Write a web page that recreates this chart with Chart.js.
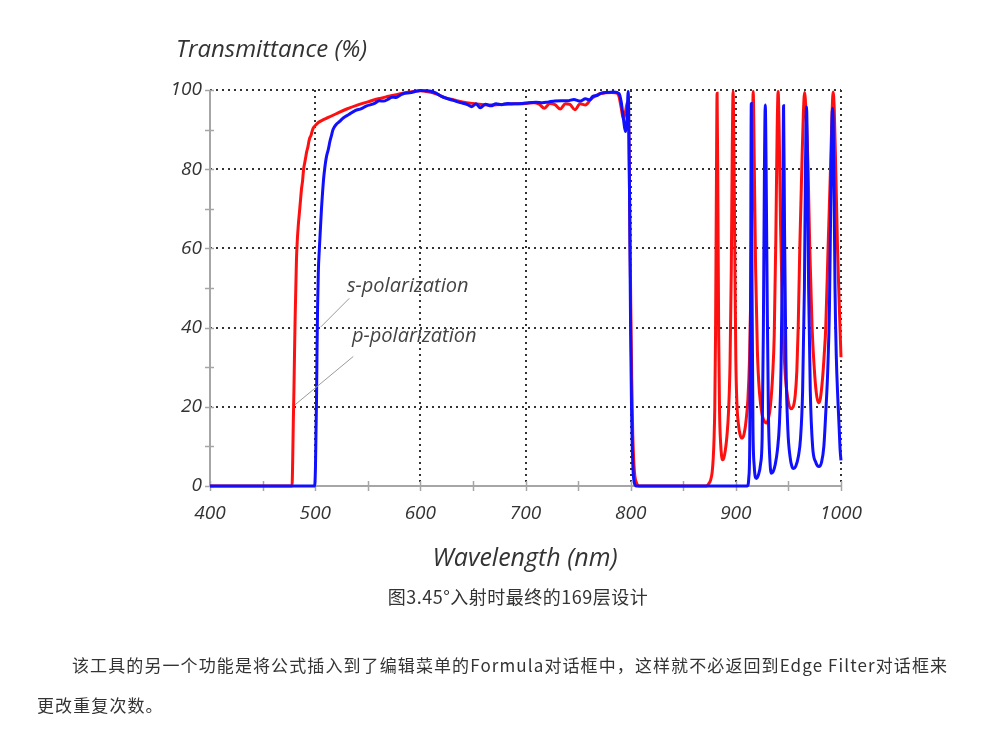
<!DOCTYPE html>
<html>
<head>
<meta charset="utf-8">
<script src="https://cdn.jsdelivr.net/npm/chart.js@4/dist/chart.umd.min.js"></script>
<style>
  html, body { margin: 0; padding: 0; background: #fff; }
  #page { position: relative; width: 1000px; height: 729px; overflow: hidden; }
  #chart { position: absolute; left: 0; top: 0; }
  .lbl { position: absolute; color: #333; font-family: "Open Sans", sans-serif; font-style: italic; white-space: nowrap; }
  .cn { position: absolute; color: #333; font-family: "Noto Sans CJK SC", sans-serif; white-space: nowrap; }
</style>
</head>
<body>
<div id="page">
  <canvas id="chart" width="1000" height="729"></canvas>
  <div class="lbl" style="left:176px; top:32px; font-size:24px; line-height:32px;">Transmittance (%)</div>
  <div class="lbl" style="left:325px; width:400px; text-align:center; top:539px; font-size:25px; line-height:34px;">Wavelength (nm)</div>
  <div class="cn" style="left:318px; width:400px; text-align:center; top:583px; font-size:18px; line-height:26px; letter-spacing:0.5px;">图3.45°入射时最终的169层设计</div>
  <div class="cn" style="left:72px; top:653px; font-size:17px; line-height:24px; letter-spacing:1.1px;">该工具的另一个功能是将公式插入到了编辑菜单的Formula对话框中，这样就不必返回到Edge Filter对话框来</div>
  <div class="cn" style="left:37px; top:693px; font-size:17px; line-height:24px; letter-spacing:1.1px;">更改重复次数。</div>
</div>
<script>
// axis ranges and tick marks
const X_MIN = 400, X_MAX = 1000;
const Y_MIN = 0, Y_MAX = 100;
const xMinorTicks = [400, 450, 500, 550, 600, 650, 700, 750, 800, 850, 900, 950, 1000];
const yMajorTicks = [0, 20, 40, 60, 80, 100];
const yMinorTicks = [10, 30, 50, 70, 90];

// s-polarization (red) – wavelength (nm) and transmittance (%)
const sWavelength = [
  400, 478, 478.6, 479.2, 479.8, 480.4, 481, 481.6, 482.2, 483, 484, 485, 486, 487, 488, 489, 490,
  491, 492, 493, 494, 495, 496, 497, 498, 500, 503, 507, 512, 520, 530, 540, 550, 560, 570, 580,
  590, 600, 606, 612, 618, 624, 632, 640, 650, 660, 670, 680, 690, 700, 708, 713, 718, 723, 728,
  733, 738, 742, 747, 752, 757, 762, 766, 770, 776, 782, 787, 789, 791, 793, 795, 797, 798, 799,
  800, 801, 802, 803, 804, 806, 808, 872, 874, 876, 877.5, 878.5, 879.3, 880, 880.7, 881.4, 882.2,
  883, 883.7, 884.5, 885.5, 886.5, 887.4, 888.5, 890, 891.5, 893, 894.5, 895.7, 896.6, 897.4, 898.2,
  899, 900, 901, 902.5, 904, 905.4, 907.5, 909.5, 911.5, 913, 914.5, 915.6, 916.5, 917.5, 918.8,
  920.5, 922.5, 925, 927.5, 929.1, 931, 933, 935, 936.5, 938, 939.3, 940.2, 941.2, 942.5, 944.5,
  947, 949.5, 952, 954.5, 956.5, 958, 959.3, 960.8, 962.7, 964.2, 965.4, 966.8, 968.7, 970.3, 972.5,
  974.5, 976.3, 978.3, 980.3, 982.4, 984, 985.5, 987.7, 990, 991.5, 992.5, 993.6, 995, 996.7, 998.3, 1000
];
const sTransmittance = [
  0, 0, 6, 16, 24, 34, 43, 50, 57, 62, 66, 69, 72, 75, 77, 80, 81.5,
  83, 84.5, 85.5, 87, 88, 88.5, 89.5, 90.3, 91, 91.8, 92.4, 93, 94, 95.2, 96.2, 97, 97.8, 98.4, 99,
  99.5, 99.8, 99.6, 99.3, 98.7, 98, 97.5, 97, 96.6, 96.3, 96.2, 96.4, 96.5, 96.6, 96.8, 96.4, 95.4, 96.6, 96.3,
  95.2, 96.5, 96.4, 95, 96.5, 96.2, 97.6, 98.4, 99, 99.3, 99.4, 99.2, 98.3, 95.5, 92.8, 94.5, 97, 92, 72,
  48, 27, 13, 6, 2.5, 0.5, 0, 0, 0.5, 1.5, 3.5, 7, 12, 20, 38, 70, 99.2,
  70, 38, 19, 11, 7.5, 6.6, 7, 9, 12.5, 18.5, 31, 55, 85, 99.6, 85,
  60, 32, 21, 15.5, 13, 12.1, 12.8, 16, 22, 32, 52, 80, 99.6, 82, 55,
  34, 23.5, 18, 16.2, 15.9, 17, 20.5, 28, 38, 62, 90, 99.6, 90, 66, 42,
  28, 22, 19.5, 20, 23, 29, 40, 60, 80, 94, 99.4, 94, 80, 60, 40,
  30, 24, 21, 22, 27, 33, 40, 60, 80, 94, 99.5, 95, 80, 60, 46, 32.5
];

// p-polarization (blue)
const pWavelength = [
  400, 499.5, 500.3, 500.8, 501.3, 501.8, 502.3, 503, 504, 505, 506, 507, 508, 509, 510, 511, 512.5,
  514, 515.5, 517, 520, 523, 527, 532, 538, 544, 549, 553, 557, 561, 565, 569, 573, 577, 581, 585,
  590, 595, 600, 605, 610, 615, 620, 626, 632, 638, 644, 649, 653, 657, 662, 667, 672, 677, 683,
  690, 697, 703, 710, 716, 722, 728, 734, 740, 746, 752, 757, 761, 764, 768, 772, 778, 784, 789,
  791, 793, 795, 796.6, 797.6, 798.5, 799.3, 800, 800.8, 801.6, 802.5, 803.5, 805, 911, 912.3, 913.2,
  914, 914.7, 915.4, 916.3, 917.5, 919.5, 921.5, 923.5, 925, 926.2, 927.2, 928, 928.8, 929.9, 931,
  932.3, 933.7, 935.5, 937.5, 939.5, 941.5, 943, 944.5, 945.4, 946.3, 947.6, 949.5, 951.5, 953.5, 955,
  957, 959.5, 961.5, 963.5, 965.2, 966.2, 967.2, 968.2, 969.2, 970.8, 973, 976, 979, 981.5, 983.7,
  985.5, 987.5, 989, 990.2, 991.2, 991.9, 992.7, 993.6, 994.3, 995.5, 997, 998.2, 999.2, 1000
];
const pTransmittance = [
  0, 0, 5, 14, 22, 35, 45, 54, 60, 65, 70, 74, 77.5, 80, 82, 83.5, 85,
  87, 88.5, 90, 91.3, 92, 93, 93.8, 94.8, 95.3, 96, 96.3, 96.7, 97.3, 97.2, 97.6, 98.2, 98.1, 98.7, 99.2,
  99.3, 99.6, 99.9, 99.8, 99.7, 99.2, 98.4, 97.8, 97.3, 96.8, 96.4, 95.8, 96.5, 95.5, 96.4, 96, 96.5, 96.3, 96.6,
  96.5, 96.6, 96.8, 96.9, 96.8, 97, 97.2, 97.3, 97.3, 97.6, 97.2, 97.8, 97.5, 98.4, 98.6, 99.2, 99.4, 99.5, 99.1,
  97, 93, 89.5, 93, 99.6, 88, 60, 38, 20, 9, 3, 0.8, 0, 0, 2, 10,
  45, 96.6, 50, 15, 5, 1.9, 2.8, 5.5, 12, 40, 80, 96.2, 80, 45, 18,
  7, 3.2, 3.6, 5.5, 9, 16, 30, 62, 96, 65, 32, 14, 7.5, 4.8, 4.4,
  5, 7.5, 12, 24, 50, 80, 95.8, 80, 50, 24, 10, 6, 4.9, 6, 10,
  18.4, 30, 45, 70, 90, 95.4, 90, 70, 50, 33, 22, 15, 9, 6.5
];

// curve labels with their leader lines (data units)
const curveLabels = [
  { text: 's-polarization', at: [530.2, 50.5], from: [532.5, 47.4], to: [505.5, 40.2] },
  { text: 'p-polarization', at: [535, 37.9], from: [536.2, 32.7], to: [480.8, 20.5] },
];

const COLORS = {
  s: '#ff1010',
  p: '#1010ff',
  axis: '#a6a6a6',
  grid: '#333333',
  text: '#333333',
  note: '#444444',
};

const toPoints = (xs, ys) => xs.map((x, i) => ({ x, y: ys[i] }));

// solid axes with crossing tick marks, drawn under the curves
const axisFrame = {
  id: 'axisFrame',
  beforeDatasetsDraw(chart) {
    const { ctx, chartArea: a, scales: { x, y } } = chart;
    ctx.save();
    ctx.strokeStyle = COLORS.axis;
    ctx.lineWidth = 2;
    ctx.beginPath();
    ctx.moveTo(a.left, a.top);
    ctx.lineTo(a.left, a.bottom);
    ctx.lineTo(a.right, a.bottom);
    ctx.stroke();
    ctx.lineWidth = 1.5;
    ctx.beginPath();
    yMajorTicks.concat(yMinorTicks).forEach(v => {
      const py = Math.round(y.getPixelForValue(v)) + 0.5;
      ctx.moveTo(a.left - 5, py);
      ctx.lineTo(a.left + 4, py);
    });
    xMinorTicks.forEach(v => {
      const px = Math.round(x.getPixelForValue(v)) + 0.5;
      ctx.moveTo(px, a.bottom - 5);
      ctx.lineTo(px, a.bottom + 5);
    });
    ctx.stroke();
    ctx.restore();
  },
};

// s/p labels and leader lines
const curveNotes = {
  id: 'curveNotes',
  afterDatasetsDraw(chart) {
    const { ctx, scales: { x, y } } = chart;
    ctx.save();
    curveLabels.forEach(n => {
      ctx.strokeStyle = '#9a9a9a';
      ctx.lineWidth = 1;
      ctx.beginPath();
      ctx.moveTo(x.getPixelForValue(n.from[0]), y.getPixelForValue(n.from[1]));
      ctx.lineTo(x.getPixelForValue(n.to[0]), y.getPixelForValue(n.to[1]));
      ctx.stroke();
      ctx.fillStyle = COLORS.note;
      ctx.font = 'italic 20px "Open Sans", sans-serif';
      ctx.textBaseline = 'middle';
      ctx.fillText(n.text, x.getPixelForValue(n.at[0]), y.getPixelForValue(n.at[1]));
    });
    ctx.restore();
  },
};

const tickFont = { family: '"Open Sans", sans-serif', size: 19, style: 'italic' };

new Chart(document.getElementById('chart'), {
  type: 'line',
  data: {
    datasets: [
      {
        label: 's-polarization',
        data: toPoints(sWavelength, sTransmittance),
        borderColor: COLORS.s,
        borderWidth: 3,
        pointRadius: 0,
        cubicInterpolationMode: 'monotone',
        clip: 3,
        order: 1,
      },
      {
        label: 'p-polarization',
        data: toPoints(pWavelength, pTransmittance),
        borderColor: COLORS.p,
        borderWidth: 3,
        pointRadius: 0,
        cubicInterpolationMode: 'monotone',
        clip: 3,
        order: 0,
      },
    ],
  },
  options: {
    responsive: false,
    animation: false,
    layout: { padding: { left: 0, right: 159, top: 90, bottom: 203 } },
    plugins: { legend: { display: false }, tooltip: { enabled: false } },
    scales: {
      x: {
        type: 'linear',
        min: X_MIN,
        max: X_MAX,
        afterFit: s => { s.height = 40; },
        ticks: {
          stepSize: 100, color: COLORS.text, font: tickFont, padding: 16, maxRotation: 0,
          callback: v => String(v),
        },
        grid: {
          color: c => (c.tick && c.tick.value === X_MIN ? 'rgba(0,0,0,0)' : COLORS.grid),
          lineWidth: 2,
          drawTicks: false,
        },
        border: { display: false, dash: [2, 4] },
      },
      y: {
        type: 'linear',
        min: Y_MIN,
        max: Y_MAX,
        afterFit: s => { s.width = 210; },
        ticks: { stepSize: 20, color: COLORS.text, font: tickFont, padding: 8, callback: v => String(v) },
        grid: {
          color: c => (c.tick && c.tick.value === Y_MIN ? 'rgba(0,0,0,0)' : COLORS.grid),
          lineWidth: 2,
          drawTicks: false,
        },
        border: { display: false, dash: [2, 4] },
      },
    },
  },
  plugins: [axisFrame, curveNotes],
});
</script>
</body>
</html>
